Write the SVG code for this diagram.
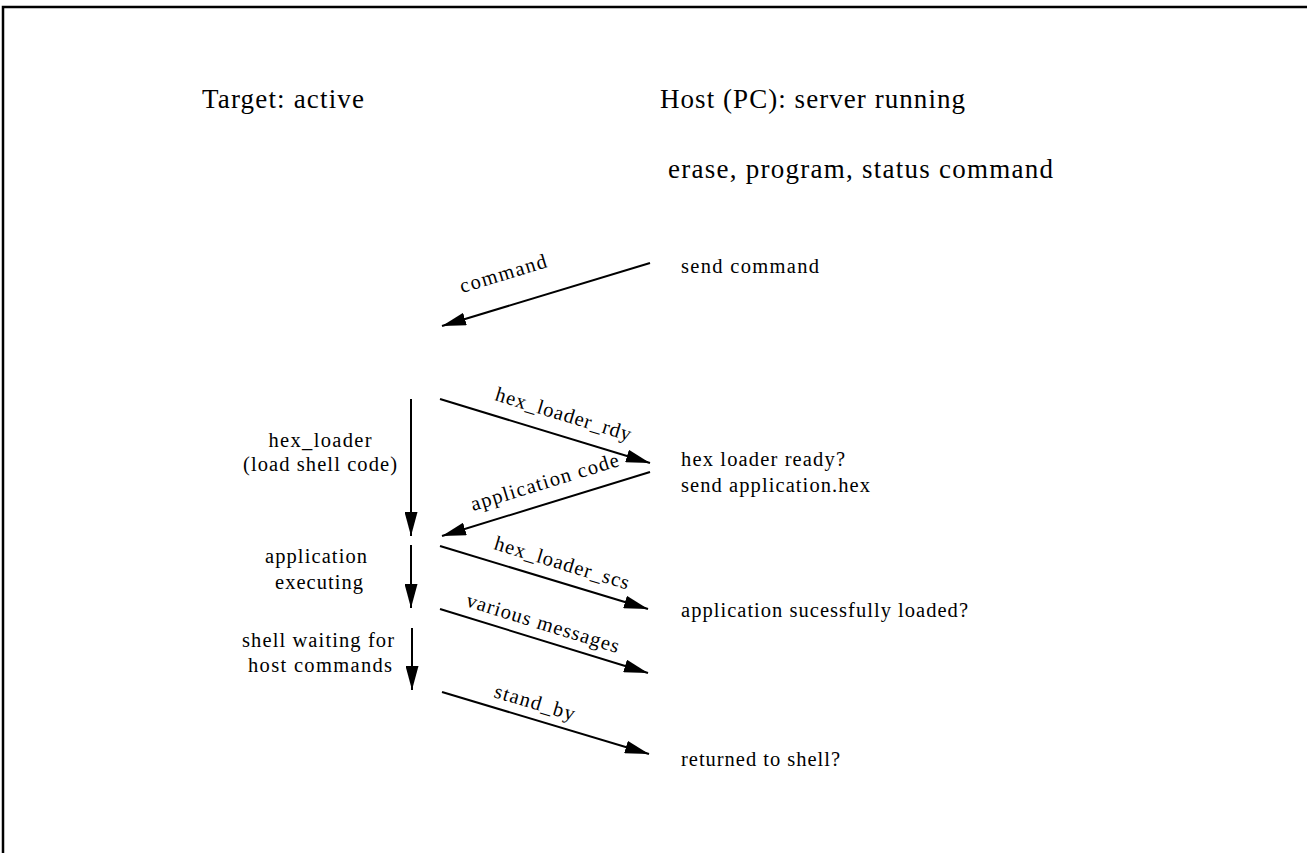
<svg xmlns="http://www.w3.org/2000/svg" width="1307" height="853" viewBox="0 0 1307 853">
<style>
text{font-family:"Liberation Serif","Times New Roman",serif;fill:#000;}
.t{font-size:27px;}
.s{font-size:20.5px;}
.m{text-anchor:middle;}
.ln{stroke:#000;stroke-width:2;fill:none;marker-end:url(#ah);}
</style>
<defs>
<marker id="ah" markerUnits="userSpaceOnUse" viewBox="0 0 24 13" markerWidth="24" markerHeight="13" refX="24" refY="6.5" orient="auto">
<path d="M0,0 L24,6.5 L0,13 z" fill="#000"/>
</marker>
</defs>
<rect width="1307" height="853" fill="#fff"/>
<path d="M3,853 V7 H1307" stroke="#000" stroke-width="2.5" fill="none"/>

<g id="target-title"><text class="t" x="202" y="108" textLength="162" lengthAdjust="spacing">Target: active</text></g>
<g id="host-title"><text class="t" x="660" y="108" textLength="305" lengthAdjust="spacing">Host (PC): server running</text></g>
<g id="host-commands"><text class="t" x="668" y="178" textLength="385" lengthAdjust="spacing">erase, program, status command</text></g>

<g id="send-command"><text class="s" x="681" y="273" textLength="138" lengthAdjust="spacing">send command</text></g>
<g id="hex-loader-ready">
<text class="s" x="681" y="466" textLength="164" lengthAdjust="spacing">hex loader ready?</text>
<text class="s" x="681" y="492" textLength="189" lengthAdjust="spacing">send application.hex</text>
</g>
<g id="app-loaded"><text class="s" x="681" y="617" textLength="287" lengthAdjust="spacing">application sucessfully loaded?</text></g>
<g id="returned"><text class="s" x="681" y="766" textLength="159" lengthAdjust="spacing">returned to shell?</text></g>

<g id="state-hex-loader">
<text class="s m" x="320" y="447" textLength="103" lengthAdjust="spacing">hex_loader</text>
<text class="s m" x="320" y="471" textLength="154" lengthAdjust="spacing">(load shell code)</text>
</g>
<g id="state-app-exec">
<text class="s m" x="316" y="563" textLength="102" lengthAdjust="spacing">application</text>
<text class="s m" x="319" y="589" textLength="88" lengthAdjust="spacing">executing</text>
</g>
<g id="state-shell">
<text class="s m" x="318" y="647" textLength="152" lengthAdjust="spacing">shell waiting for</text>
<text class="s m" x="320" y="672" textLength="144" lengthAdjust="spacing">host commands</text>
</g>

<g id="connectors">
<line class="ln" x1="650" y1="263" x2="442" y2="326"/>
<line class="ln" x1="440" y1="399" x2="650" y2="463"/>
<line class="ln" x1="650" y1="472" x2="442" y2="536"/>
<line class="ln" x1="440" y1="546" x2="648" y2="609"/>
<line class="ln" x1="440" y1="609" x2="648" y2="673"/>
<line class="ln" x1="442" y1="692" x2="649" y2="754"/>
<line class="ln" x1="411" y1="399" x2="411" y2="536"/>
<line class="ln" x1="411" y1="545" x2="411" y2="608"/>
<line class="ln" x1="412" y1="628" x2="412" y2="690"/>
<text class="s" transform="translate(462,293) rotate(-16.8)" textLength="90" lengthAdjust="spacing">command</text>
<text class="s" transform="translate(494,400) rotate(16.95)" textLength="141" lengthAdjust="spacing">hex_loader_rdy</text>
<text class="s" transform="translate(473,511) rotate(-17.1)" textLength="154" lengthAdjust="spacing">application code</text>
<text class="s" transform="translate(493,549) rotate(16.85)" textLength="140" lengthAdjust="spacing">hex_loader_scs</text>
<text class="s" transform="translate(465,606) rotate(17.2)" textLength="159" lengthAdjust="spacing">various messages</text>
<text class="s" transform="translate(493,697) rotate(16.5)" textLength="83" lengthAdjust="spacing">stand_by</text>
</g>
</svg>
